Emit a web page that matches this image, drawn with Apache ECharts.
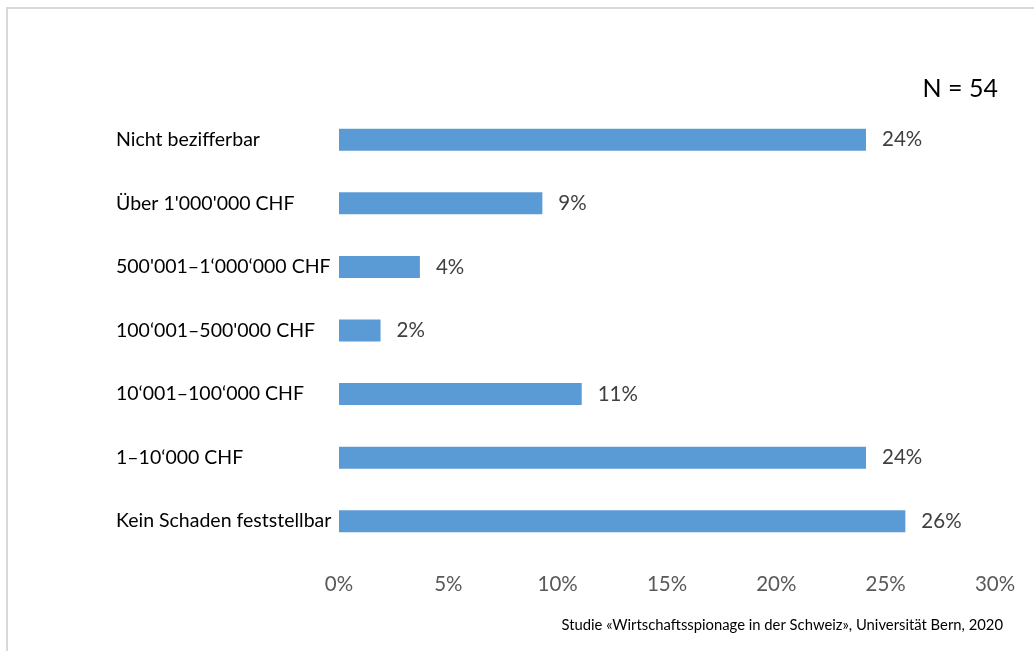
<!DOCTYPE html>
<html>
<head>
<meta charset="utf-8">
<script src="https://cdn.jsdelivr.net/npm/echarts@6/dist/echarts.min.js"></script>
<style>
  html, body { margin: 0; padding: 0; background: #ffffff; }
  #frame { position: absolute; left: 6px; top: 7px; width: 1028px; height: 644px;
           border-top: 2px solid #d9d9d9; border-left: 2px solid #d9d9d9; box-sizing: border-box; }
  #chart { position: absolute; left: 0; top: 0; width: 1034px; height: 651px; }
</style>
</head>
<body>
<div id="frame"></div>
<div id="chart"></div>
<script>
// Damage categories, bottom to top as drawn on the category axis
const categories = [
  'Kein Schaden feststellbar',
  '1–10‘000 CHF',
  '10‘001–100‘000 CHF',
  '100‘001–500\'000 CHF',
  '500\'001–1‘000‘000 CHF',
  'Über 1\'000\'000 CHF',
  'Nicht bezifferbar'
];
// Share of responding firms in percent (N = 54)
const shares = [25.9, 24.1, 11.1, 1.9, 3.7, 9.3, 24.1];
const sampleLabel = 'N = 54';
const sourceNote = 'Studie «Wirtschaftsspionage in der Schweiz», Universität Bern, 2020';

const font = 'Lato, "Open Sans", sans-serif';
const chart = echarts.init(document.getElementById('chart'));
chart.setOption({
  animation: false,
  backgroundColor: 'transparent',
  grid: { left: 339, top: 108, width: 656, height: 445, containLabel: false },
  xAxis: {
    type: 'value', min: 0, max: 30, interval: 5,
    axisLine: { show: false }, axisTick: { show: false }, splitLine: { show: false },
    axisLabel: { formatter: '{value}%', color: '#595959', fontSize: 20.5, fontFamily: font, margin: 21 }
  },
  yAxis: {
    type: 'category', data: categories,
    axisLine: { show: false }, axisTick: { show: false },
    axisLabel: { align: 'left', margin: 223, color: '#000000', fontSize: 19.5, fontFamily: font }
  },
  series: [{
    type: 'bar', data: shares, barWidth: 22,
    itemStyle: { color: '#5b9bd5' },
    label: {
      show: true, position: 'right', distance: 16,
      formatter: p => Math.round(p.value) + '%',
      color: '#404040', fontSize: 20.5, fontFamily: font
    }
  }],
  graphic: [
    { type: 'text', right: 36, top: 76,
      style: { text: sampleLabel, fill: '#000000', fontSize: 25, fontFamily: font } },
    { type: 'text', right: 31, top: 618,
      style: { text: sourceNote, fill: '#000000', fontSize: 14.8, fontFamily: font } }
  ]
});
</script>
</body>
</html>
